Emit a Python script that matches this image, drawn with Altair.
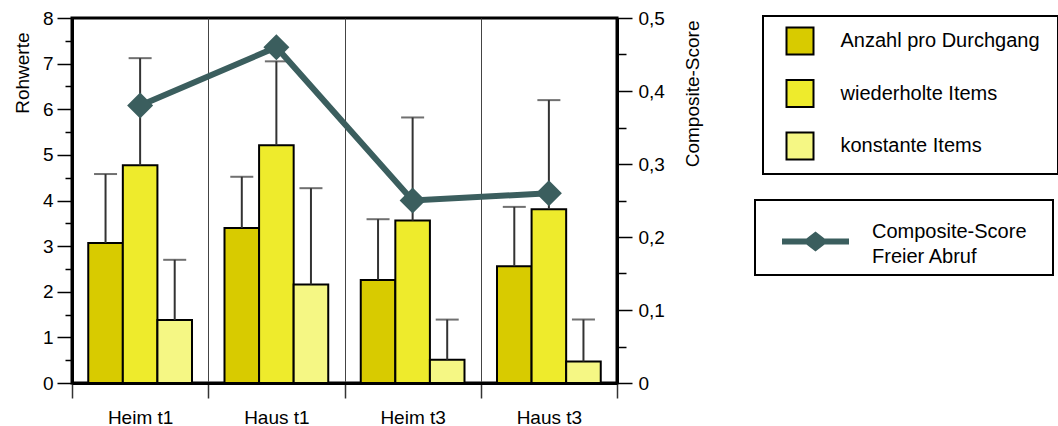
import altair as alt
import pandas as pd

# Categories (groups on the x axis) and the three bar series
categories = ["Heim t1", "Haus t1", "Heim t3", "Haus t3"]
series = ["Anzahl pro Durchgang", "wiederholte Items", "konstante Items"]

# Means (bar heights) and upper error limits per series, one value per group
anzahl = [3.07, 3.40, 2.26, 2.56]
anzahl_upper = [4.58, 4.52, 3.59, 3.86]
wiederholt = [4.77, 5.21, 3.56, 3.81]
wiederholt_upper = [7.12, 7.05, 5.82, 6.20]
konstant = [1.38, 2.16, 0.51, 0.47]
konstant_upper = [2.70, 4.27, 1.39, 1.39]

# Composite score (right axis)
composite = [0.38, 0.46, 0.25, 0.26]
composite_name = "Composite-Score\nFreier Abruf"

left_ticks = [i * 0.5 for i in range(17)]
right_ticks = [round(i * 0.05, 2) for i in range(11)]

bar_colors = ["#d8cb00", "#eeeb2c", "#f5f784"]
line_color = "#3b5e5e"
err_color = "#333333"
FONT = "Liberation Sans"

rows = []
for name, vals, ups in zip(series, [anzahl, wiederholt, konstant],
                           [anzahl_upper, wiederholt_upper, konstant_upper]):
    for cat, v, u in zip(categories, vals, ups):
        rows.append({"Gruppe": cat, "Maß": name, "Wert": v, "Obergrenze": u})
bars_df = pd.DataFrame(rows)
comp_df = pd.DataFrame({"Gruppe": categories, "Score": composite,
                        "Reihe": [composite_name] * len(categories)})

x_axis = alt.Axis(title=None, tickBand="extent", grid=True, gridColor="#444444",
                  gridWidth=1, tickColor="#333333", tickWidth=1.5, tickSize=15,
                  domainColor="black", domainWidth=3, labelAngle=0,
                  labelFontSize=19, labelColor="black", labelPadding=10)
x_scale = alt.Scale(paddingInner=0, paddingOuter=0)
x_enc = alt.X("Gruppe:N", sort=categories, scale=x_scale, axis=x_axis)
xoff_enc = alt.XOffset("Maß:N", sort=series,
                       scale=alt.Scale(paddingInner=0, paddingOuter=0.47))

raw_scale = alt.Scale(domain=[0, 8], nice=False, zero=True)
comp_scale = alt.Scale(domain=[0, 0.5], nice=False, zero=True)

# half-step ticks are drawn short by dashing only the part next to the axis
left_minor = "round(datum.value * 2) % 2 !== 0"
right_minor = "round(datum.value * 20) % 2 !== 0"

left_axis = alt.Axis(
    title="Rohwerte", orient="left", values=left_ticks, grid=False,
    tickSize=15,
    tickDash={"condition": {"test": left_minor, "value": [7, 40]}, "value": []},
    labelExpr=f"{left_minor} ? '' : format(datum.value, 'd')",
    tickColor="black", tickWidth=1.5, domainColor="black", domainWidth=3,
    labelFontSize=19, labelColor="black", labelPadding=4,
    titleFontSize=19, titleFontWeight="normal", titleColor="black",
    titleAngle=-90, titleAlign="right", titleBaseline="middle",
    titleX=-50, titleY=14,
)

right_axis = alt.Axis(
    title="Composite-Score", orient="right", values=right_ticks, grid=False,
    tickSize=15,
    tickDash={"condition": {"test": right_minor, "value": [9, 40]}, "value": []},
    labelExpr=f"{right_minor} ? '' : replace(format(datum.value, '.1~f'), '.', ',')",
    tickColor="black", tickWidth=1.5, domainColor="black", domainWidth=3,
    labelFontSize=19, labelColor="black", labelPadding=6,
    titleFontSize=19, titleFontWeight="normal", titleColor="black",
    titleAngle=-90, titleAlign="right", titleBaseline="middle",
    titleX=75, titleY=2,
)

bars = alt.Chart(bars_df).mark_bar(stroke="black", strokeWidth=2).encode(
    x=x_enc,
    xOffset=xoff_enc,
    y=alt.Y("Wert:Q", scale=raw_scale, axis=left_axis),
    fill=alt.Fill(
        "Maß:N", sort=series,
        scale=alt.Scale(domain=series, range=bar_colors),
        legend=alt.Legend(
            orient="none", legendX=691, legendY=-2,
            title="\u00a0", titleOrient="right", titlePadding=8, titleFontSize=20,
            symbolType="square", symbolSize=729, symbolStrokeColor="black",
            symbolStrokeWidth=2, symbolOffset=12, labelOffset=26, rowPadding=17.5,
            padding=10.5, labelFontSize=20, labelLimit=500, labelColor="black",
            strokeColor="black",
        ),
    ),
)

err_rules = alt.Chart(bars_df).mark_rule(color=err_color, strokeWidth=2).encode(
    x=x_enc, xOffset=xoff_enc,
    y=alt.Y("Wert:Q", scale=raw_scale, axis=None),
    y2="Obergrenze:Q",
)

err_caps = alt.Chart(bars_df).mark_tick(color=err_color, thickness=2, size=23).encode(
    x=x_enc, xOffset=xoff_enc,
    y=alt.Y("Obergrenze:Q", scale=raw_scale, axis=None),
)

# Legend symbol: a horizontal stroke with a diamond in the middle
line_symbol = ("M-1,-0.09L-0.27,-0.09L0,-0.3L0.27,-0.09L1,-0.09"
               "L1,0.09L0.27,0.09L0,0.3L-0.27,0.09L-1,0.09Z")

comp_line = alt.Chart(comp_df).mark_line(strokeWidth=6).encode(
    x=x_enc,
    y=alt.Y("Score:Q", scale=comp_scale, axis=right_axis),
    stroke=alt.Stroke(
        "Reihe:N",
        scale=alt.Scale(domain=[composite_name], range=[line_color]),
        legend=alt.Legend(
            orient="none", legendX=683, legendY=182,
            title="\u00a0", titleOrient="right", titlePadding=18, titleFontSize=20,
            symbolType=line_symbol, symbolSize=4489, symbolFillColor=line_color,
            symbolStrokeWidth=0, symbolOffset=19, labelOffset=23, padding=8,
            labelExpr="split(datum.label, '\\n')", labelFontSize=20,
            labelBaseline="bottom", labelLimit=500,
            labelColor="black", strokeColor="black",
        ),
    ),
)

comp_points = alt.Chart(comp_df).mark_point(
    shape="diamond", size=676, filled=True, opacity=1, color=line_color
).encode(
    x=x_enc,
    y=alt.Y("Score:Q", scale=comp_scale, axis=None),
)

chart = (
    alt.layer(bars, err_rules, err_caps, comp_line, comp_points)
    .resolve_scale(y="independent")
    .properties(
        width=545, height=365,
        autosize=alt.AutoSizeParams(type="none"),
        padding={"left": 72, "top": 18, "right": 441, "bottom": 43},
        background="white",
    )
    .configure(font=FONT, style={"guide-label": {"lineHeight": 25}})
    .configure_view(stroke="black", strokeWidth=3)
    .configure_legend(strokeWidth=2)
)

chart.save("out.html", embed_options={"renderer": "svg", "actions": False})
